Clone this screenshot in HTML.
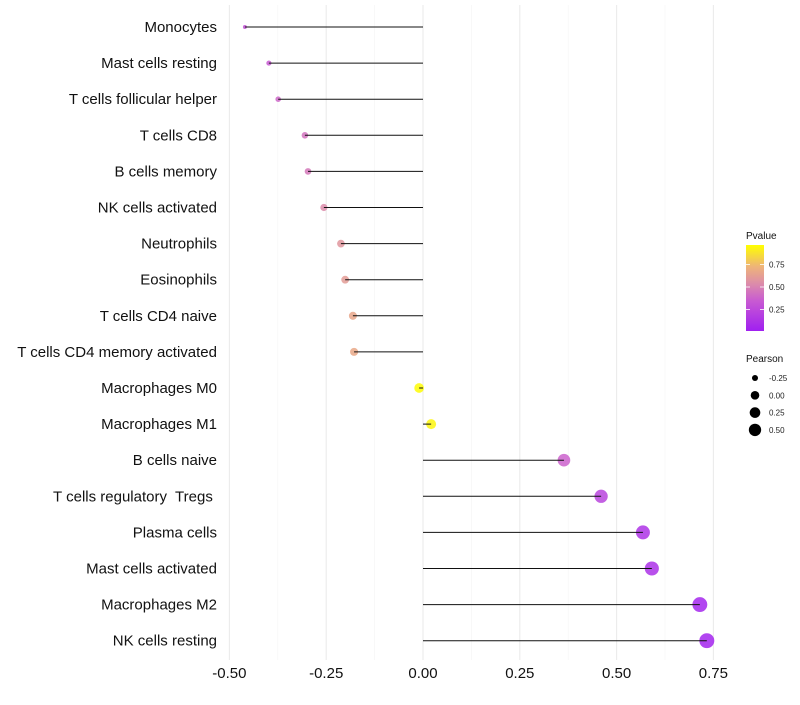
<!DOCTYPE html>
<html><head><meta charset="utf-8"><style>
body{margin:0;background:#fff;font-family:"Liberation Sans",sans-serif}
</style></head><body>
<svg id="c" width="800" height="700" xmlns="http://www.w3.org/2000/svg"></svg>
<script>
const categories=["Monocytes","Mast cells resting","T cells follicular helper","T cells CD8","B cells memory","NK cells activated","Neutrophils","Eosinophils","T cells CD4 naive","T cells CD4 memory activated","Macrophages M0","Macrophages M1","B cells naive","T cells regulatory  Tregs ","Plasma cells","Mast cells activated","Macrophages M2","NK cells resting"];
const pearson=[-0.46,-0.398,-0.374,-0.305,-0.297,-0.256,-0.212,-0.201,-0.181,-0.178,-0.01,0.021,0.364,0.46,0.568,0.591,0.715,0.733];
const pvalues=[0.3,0.35,0.4,0.45,0.47,0.55,0.6,0.63,0.68,0.69,0.99,0.97,0.38,0.22,0.12,0.1,0.04,0.03];
const xTicks=[-0.5,-0.25,0,0.25,0.5,0.75];
const xTickLabels=["-0.50","-0.25","0.00","0.25","0.50","0.75"];
const sizeLegend=[-0.25,0,0.25,0.5];
const sizeLegendLabels=["-0.25","0.00","0.25","0.50"];
const colorTicks=[0.25,0.5,0.75];

const NS="http://www.w3.org/2000/svg";
const svg=document.getElementById("c");
const X=v=>423+(v)*387.2;
const Y=i=>27+i*36.1;
const R=v=>Math.sqrt(Math.max(2,24+43.6*v));
const stops=[[0,[160,32,240]],[0.35,[200,90,210]],[0.55,[220,140,170]],[0.75,[238,180,120]],[1,[255,255,0]]];
function col(p){for(let i=1;i<stops.length;i++){if(p<=stops[i][0]){const a=stops[i-1],b=stops[i],t=(p-a[0])/(b[0]-a[0]);return "rgb("+a[1].map((c,k)=>Math.round(c+(b[1][k]-c)*t)).join(",")+")";}}return "rgb(255,255,0)";}
function el(t,a){const e=document.createElementNS(NS,t);for(const k in a)e.setAttribute(k,a[k]);svg.appendChild(e);return e;}
for(let i=0;i<xTicks.length;i++){
 if(i<xTicks.length-1){const m=el("line",{x1:X(xTicks[i]+0.125),x2:X(xTicks[i]+0.125),y1:5,y2:660,stroke:"#f4f4f4","stroke-width":0.6});
 
 }
 const g=el("line",{x1:X(xTicks[i]),x2:X(xTicks[i]),y1:5,y2:660,stroke:"#ebebeb","stroke-width":1.1});
 
 
 const t=el("text",{x:X(xTicks[i]),y:678,"text-anchor":"middle","font-size":"15",fill:"#111"});t.textContent=xTickLabels[i];
 
 
}
for(let i=0;i<categories.length;i++){
 const t=el("text",{x:217,y:Y(i)+5,"text-anchor":"end","font-size":"15",fill:"#111",style:"white-space:pre"});t.textContent=categories[i];
 
 
 const c=el("circle",{cx:X(pearson[i]),cy:Y(i),r:R(pearson[i]),fill:col(pvalues[i]),"fill-opacity":0.85});
 
 
 const l=el("line",{x1:X(0),x2:X(pearson[i]),y1:Y(i),y2:Y(i),stroke:"#111","stroke-width":1});
 
 
}
const lt=el("text",{x:746,y:239,"font-size":"10",fill:"#111"});lt.textContent="Pvalue";


const defs=el("defs",{});
const lg=document.createElementNS(NS,"linearGradient");lg.setAttribute("id","gr");lg.setAttribute("x1","0");lg.setAttribute("y1","1");lg.setAttribute("x2","0");lg.setAttribute("y2","0");defs.appendChild(lg);
for(let p=0;p<=1.001;p+=0.05){const s=document.createElementNS(NS,"stop");s.setAttribute("offset",p);s.setAttribute("stop-color",col(p));lg.appendChild(s);}
const cb=el("rect",{x:746,y:245,width:18,height:86,fill:"url(#gr)"});


for(const v of colorTicks){const y=331-(v-0.01)*88/0.98;
 el("line",{x1:746,x2:750,y1:y,y2:y,stroke:"#fff","stroke-width":0.8});el("line",{x1:760,x2:764,y1:y,y2:y,stroke:"#fff","stroke-width":0.8});
 const t=el("text",{x:769,y:y+3,"font-size":"8",fill:"#222"});t.textContent=v.toFixed(2);
 
 }
const st=el("text",{x:746,y:362,"font-size":"10",fill:"#111"});st.textContent="Pearson";


for(let i=0;i<sizeLegend.length;i++){const y=378+i*17.3;
 const c=el("circle",{cx:755,cy:y,r:R(sizeLegend[i])-0.6,fill:"#000"});
 
 
 const t=el("text",{x:769,y:y+3,"font-size":"8",fill:"#222"});t.textContent=sizeLegendLabels[i];
 
 }
</script>
</body></html>
